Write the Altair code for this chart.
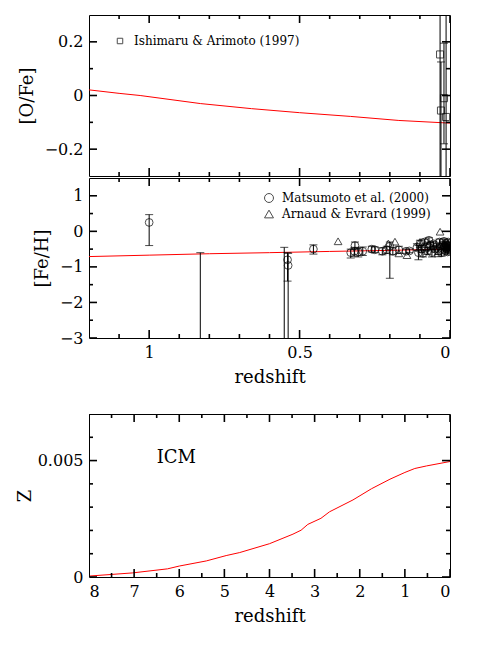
import altair as alt
import pandas as pd

FONT = "DejaVu Serif"

# ---------------- top panel: [O/Fe] ----------------
ofe_model_z = [1.2, 1.1, 1.03, 0.83, 0.66, 0.5, 0.33, 0.17, 0.0]
ofe_model = [0.021, 0.008, 0.0, -0.030, -0.049, -0.064, -0.078, -0.093, -0.103]

ia_z = [0.033, 0.020, 0.030, 0.013]
ia_ofe = [0.153, -0.010, -0.056, -0.080]
ia_lo = [-0.5, -0.18, -0.5, -0.5]
ia_hi = [0.5, 0.195, 0.125, 0.5]

# ---------------- middle panel: [Fe/H] ----------------
feh_model_z = [1.2, 1.0, 0.8, 0.6, 0.4, 0.2, 0.0]
feh_model = [-0.71, -0.67, -0.63, -0.60, -0.565, -0.535, -0.50]

mat_z = [1.0, 0.83, 0.551, 0.540, 0.538, 0.454, 0.316, 0.318, 0.305, 0.29, 0.33,
         0.26, 0.25, 0.225, 0.21, 0.20, 0.19, 0.17, 0.146, 0.135,
         0.11, 0.105, 0.10, 0.095, 0.09, 0.085, 0.08, 0.075, 0.07, 0.065, 0.06,
         0.055, 0.05, 0.045, 0.04, 0.035, 0.03, 0.028, 0.025, 0.022, 0.02,
         0.018, 0.016, 0.014, 0.012, 0.01, 0.008, 0.006, 0.005, 0.004, 0.003, 0.002]
mat_feh = [0.25, -3.6, -3.6, -0.80, -0.96, -0.50, -0.40, -0.56, -0.58, -0.56, -0.60,
           -0.50, -0.52, -0.56, -0.52, -0.42, -0.56, -0.52, -0.56, -0.55,
           -0.45, -0.60, -0.35, -0.50, -0.62, -0.30, -0.45, -0.55, -0.25, -0.40, -0.60,
           -0.35, -0.50, -0.42, -0.55, -0.30, -0.45, -0.60, -0.38, -0.50, -0.28,
           -0.42, -0.55, -0.35, -0.48, -0.40, -0.58, -0.30, -0.45, -0.52, -0.38, -0.48]
mat_lo = [-0.40, -4.0, -4.0, -1.40, -4.0, -0.64, -0.50, -0.70, -0.72, -0.68, -0.75,
          -0.58, -0.60, -0.66, -0.62, -1.32, -0.66, -0.62, -0.62, -0.60,
          -0.55, -0.80, -0.45, -0.60, -0.72, -0.38, -0.55, -0.65, -0.32, -0.50, -0.72,
          -0.42, -0.58, -0.50, -0.65, -0.38, -0.52, -0.70, -0.45, -0.58, -0.35,
          -0.50, -0.62, -0.42, -0.55, -0.47, -0.66, -0.37, -0.52, -0.60, -0.45, -0.55]
mat_hi = [0.47, -0.60, -0.45, -0.60, -0.62, -0.38, -0.30, -0.45, -0.46, -0.44, -0.50,
          -0.42, -0.44, -0.46, -0.42, -0.30, -0.46, -0.42, -0.50, -0.50,
          -0.35, -0.40, -0.25, -0.40, -0.52, -0.22, -0.35, -0.45, -0.18, -0.30, -0.50,
          -0.28, -0.42, -0.34, -0.45, -0.22, -0.38, -0.50, -0.31, -0.42, -0.21,
          -0.34, -0.48, -0.28, -0.41, -0.33, -0.50, -0.23, -0.38, -0.44, -0.31, -0.41]

ae_z = [0.372, 0.205, 0.183, 0.17, 0.143, 0.10, 0.07, 0.06, 0.04, 0.033, 0.015]
ae_feh = [-0.28, -0.34, -0.29, -0.62, -0.67, -0.30, -0.35, -0.45, -0.62, -0.01, -0.35]

# ---------------- bottom panel: Z of ICM ----------------
icm_z = [8.0, 7.04, 6.26, 6.0, 5.4, 4.96, 4.66, 4.0, 3.48, 3.3, 3.15, 2.86, 2.67,
         2.15, 1.74, 1.33, 1.0, 0.78, 0.52, 0.0]
icm_Z = [0.00004, 0.000175, 0.00035, 0.00047, 0.00069, 0.00092, 0.00105, 0.00143,
         0.00184, 0.00201, 0.00226, 0.00252, 0.0028, 0.00331, 0.00379, 0.0042,
         0.00449, 0.00466, 0.00477, 0.00496]

# ---------------- tick positions ----------------
z_major = [1.0, 0.5, 0.0]
z_minor = [0.1, 0.2, 0.3, 0.4, 0.6, 0.7, 0.8, 0.9, 1.1]
ofe_major = [-0.2, 0.0, 0.2]
ofe_minor = [-0.1, 0.1]
feh_major = [-3, -2, -1, 0, 1]
feh_minor = [-2.5, -1.5, -0.5, 0.5]
zz_major = [0, 1, 2, 3, 4, 5, 6, 7, 8]
zz_minor = [0.5, 1.5, 2.5, 3.5, 4.5, 5.5, 6.5, 7.5]
Z_major = [0.0, 0.005]
Z_minor = [0.001, 0.002, 0.003, 0.004, 0.006]

LBL_TOP = "Ishimaru & Arimoto (1997)"
LBL_MAT = "Matsumoto et al. (2000)"
LBL_AE = "Arnaud & Evrard (1999)"

W = 361
MAJ, MIN = 8, 4


def sc(dom):
    return alt.Scale(domain=dom, nice=False, zero=False)


def frame_layers(xdom, ydom, xmaj, xmin, ymaj, ymin, xlab, xtitle, ytitle, H, ytp=8):
    """Inward tick segments on all four sides; the x-tick layer carries the
    bottom axis (labels + title), the y-tick layer carries the left axis."""
    ys = (ydom[1] - ydom[0]) / H
    xs = (xdom[1] - xdom[0]) / W
    xt, xa0, xa1 = [], [], []
    for vals, L in ((xmaj, MAJ), (xmin, MIN)):
        for t in vals:
            xt += [t, t]
            xa0 += [ydom[0], ydom[1]]
            xa1 += [ydom[0] + L * ys, ydom[1] - L * ys]
    yt, ya0, ya1 = [], [], []
    for vals, L in ((ymaj, MAJ), (ymin, MIN)):
        for t in vals:
            yt += [t, t]
            ya0 += [xdom[0], xdom[1]]
            ya1 += [xdom[0] + L * xs, xdom[1] - L * xs]
    xd = pd.DataFrame({"t": xt, "a": xa0, "b": xa1})
    yd = pd.DataFrame({"t": yt, "a": ya0, "b": ya1})
    xa = alt.Axis(orient="bottom", values=xmaj, ticks=False, domain=False, grid=False,
                  labels=xlab, format="~g", labelPadding=6, titlePadding=8)
    ya = alt.Axis(orient="left", values=ymaj, ticks=False, domain=False, grid=False,
                  labels=True, format="~g", labelPadding=6, titlePadding=ytp)
    xl = alt.Chart(xd).mark_rule(color="black", strokeWidth=1.6, clip=True).encode(
        x=alt.X("t:Q", scale=sc(xdom), axis=xa, title=xtitle if xtitle else None),
        y=alt.Y("a:Q", scale=sc(ydom), axis=None), y2="b:Q")
    yl = alt.Chart(yd).mark_rule(color="black", strokeWidth=1.6, clip=True).encode(
        y=alt.Y("t:Q", scale=sc(ydom), axis=ya, title=ytitle),
        x=alt.X("a:Q", scale=sc(xdom), axis=None), x2="b:Q")
    return [xl, yl]


# ---------- top ----------
XD = [1.2, 0.0]
YD1 = [-0.3, 0.3]
H1, H2, H3 = 161, 160, 163

top_model = pd.DataFrame({"z": ofe_model_z, "v": ofe_model})
top_obs = pd.DataFrame({"z": ia_z, "v": ia_ofe, "lo": ia_lo, "hi": ia_hi,
                        "src": [LBL_TOP] * len(ia_z)})

top_line = alt.Chart(top_model).mark_line(color="#ff0000", strokeWidth=1, clip=True).encode(
    x=alt.X("z:Q", scale=sc(XD), axis=None), y=alt.Y("v:Q", scale=sc(YD1), axis=None))
top_rule = alt.Chart(top_obs).mark_rule(color="black", strokeWidth=1, clip=True).encode(
    x=alt.X("z:Q", scale=sc(XD), axis=None), y=alt.Y("lo:Q", scale=sc(YD1), axis=None),
    y2="hi:Q")
top_cap1 = alt.Chart(top_obs).mark_tick(color="black", orient="horizontal", size=8,
                                        thickness=1, clip=True).encode(
    x=alt.X("z:Q", scale=sc(XD), axis=None), y=alt.Y("lo:Q", scale=sc(YD1), axis=None))
top_cap2 = alt.Chart(top_obs).mark_tick(color="black", orient="horizontal", size=8,
                                        thickness=1, clip=True).encode(
    x=alt.X("z:Q", scale=sc(XD), axis=None), y=alt.Y("hi:Q", scale=sc(YD1), axis=None))
top_pts = alt.Chart(top_obs).mark_point(filled=False, color="black", strokeWidth=1,
                                        size=50, clip=True).encode(
    x=alt.X("z:Q", scale=sc(XD), axis=None), y=alt.Y("v:Q", scale=sc(YD1), axis=None),
    shape=alt.Shape("src:N", scale=alt.Scale(domain=[LBL_TOP], range=["square"]),
                    legend=alt.Legend(title=None, orient="none", legendX=25, legendY=20,
                                      labelFont=FONT, labelFontSize=12, labelColor="black",
                                      labelOffset=8, labelLimit=400,
                                      symbolStrokeColor="black", symbolStrokeWidth=1,
                                      symbolSize=30, symbolType="square", padding=0)))

top = alt.layer(
    top_line, top_rule, top_cap1, top_cap2, top_pts,
    *frame_layers(XD, YD1, z_major, z_minor, ofe_major, ofe_minor, False, None, "[O/Fe]", H1)
).resolve_scale(x="independent", y="independent").properties(width=W, height=H1)

# ---------- middle ----------
YD2 = [-3.0, 1.5]
mid_model = pd.DataFrame({"z": feh_model_z, "v": feh_model})
mat = pd.DataFrame({"z": mat_z, "v": mat_feh, "lo": mat_lo, "hi": mat_hi})
pts = pd.DataFrame({"z": mat_z + ae_z, "v": mat_feh + ae_feh,
                    "src": [LBL_MAT] * len(mat_z) + [LBL_AE] * len(ae_z)})

mid_line = alt.Chart(mid_model).mark_line(color="#ff0000", strokeWidth=1, clip=True).encode(
    x=alt.X("z:Q", scale=sc(XD), axis=None), y=alt.Y("v:Q", scale=sc(YD2), axis=None))
mid_rule = alt.Chart(mat).mark_rule(color="black", strokeWidth=1, clip=True).encode(
    x=alt.X("z:Q", scale=sc(XD), axis=None), y=alt.Y("lo:Q", scale=sc(YD2), axis=None),
    y2="hi:Q")
mid_cap1 = alt.Chart(mat).mark_tick(color="black", orient="horizontal", size=8,
                                    thickness=1, clip=True).encode(
    x=alt.X("z:Q", scale=sc(XD), axis=None), y=alt.Y("lo:Q", scale=sc(YD2), axis=None))
mid_cap2 = alt.Chart(mat).mark_tick(color="black", orient="horizontal", size=8,
                                    thickness=1, clip=True).encode(
    x=alt.X("z:Q", scale=sc(XD), axis=None), y=alt.Y("hi:Q", scale=sc(YD2), axis=None))
mid_pts = alt.Chart(pts).mark_point(filled=False, color="black", strokeWidth=1,
                                    size=60, clip=True).encode(
    x=alt.X("z:Q", scale=sc(XD), axis=None), y=alt.Y("v:Q", scale=sc(YD2), axis=None),
    shape=alt.Shape("src:N", scale=alt.Scale(domain=[LBL_MAT, LBL_AE],
                                             range=["circle", "triangle-up"]),
                    legend=alt.Legend(title=None, orient="none", legendX=174, legendY=14,
                                      labelFont=FONT, labelFontSize=12, labelColor="black",
                                      labelOffset=7, labelLimit=400,
                                      symbolStrokeColor="black", symbolStrokeWidth=1,
                                      symbolSize=80, rowPadding=3, padding=0)))

mid = alt.layer(
    mid_line, mid_rule, mid_cap1, mid_cap2, mid_pts,
    *frame_layers(XD, YD2, z_major, z_minor, feh_major, feh_minor,
                  True, "redshift", "[Fe/H]", H2)
).resolve_scale(x="independent", y="independent").properties(width=W, height=H2)

# ---------- bottom ----------
XD3 = [8.0, 0.0]
YD3 = [0.0, 0.007]
icm = pd.DataFrame({"z": icm_z, "v": icm_Z})
lab = pd.DataFrame({"z": [6.5], "v": [0.0051], "t": ["ICM"]})

bot_line = alt.Chart(icm).mark_line(color="#ff0000", strokeWidth=1, clip=True).encode(
    x=alt.X("z:Q", scale=sc(XD3), axis=None), y=alt.Y("v:Q", scale=sc(YD3), axis=None))
bot_txt = alt.Chart(lab).mark_text(font=FONT, fontSize=18, color="black", align="left",
                                   baseline="middle").encode(
    x=alt.X("z:Q", scale=sc(XD3), axis=None), y=alt.Y("v:Q", scale=sc(YD3), axis=None),
    text="t:N")

bot = alt.layer(
    bot_line, bot_txt,
    *frame_layers(XD3, YD3, zz_major, zz_minor, Z_major, Z_minor,
                  True, "redshift", "Z", H3, ytp=3)
).resolve_scale(x="independent", y="independent").properties(width=W, height=H3)

upper = alt.vconcat(top, mid, spacing=0).resolve_scale(shape="independent")
chart = alt.vconcat(upper, bot, spacing=26).resolve_scale(shape="independent").properties(
    padding={"left": 7, "top": 6, "right": 5, "bottom": 5}
).configure_view(stroke="black", strokeWidth=1).configure_axis(
    labelFont=FONT, labelFontSize=16, labelColor="black",
    titleFont=FONT, titleFontSize=18, titleFontWeight="normal", titleColor="black"
).configure_legend(labelFont=FONT)

chart.save("out.html", embed_options={"renderer": "svg", "actions": False})
